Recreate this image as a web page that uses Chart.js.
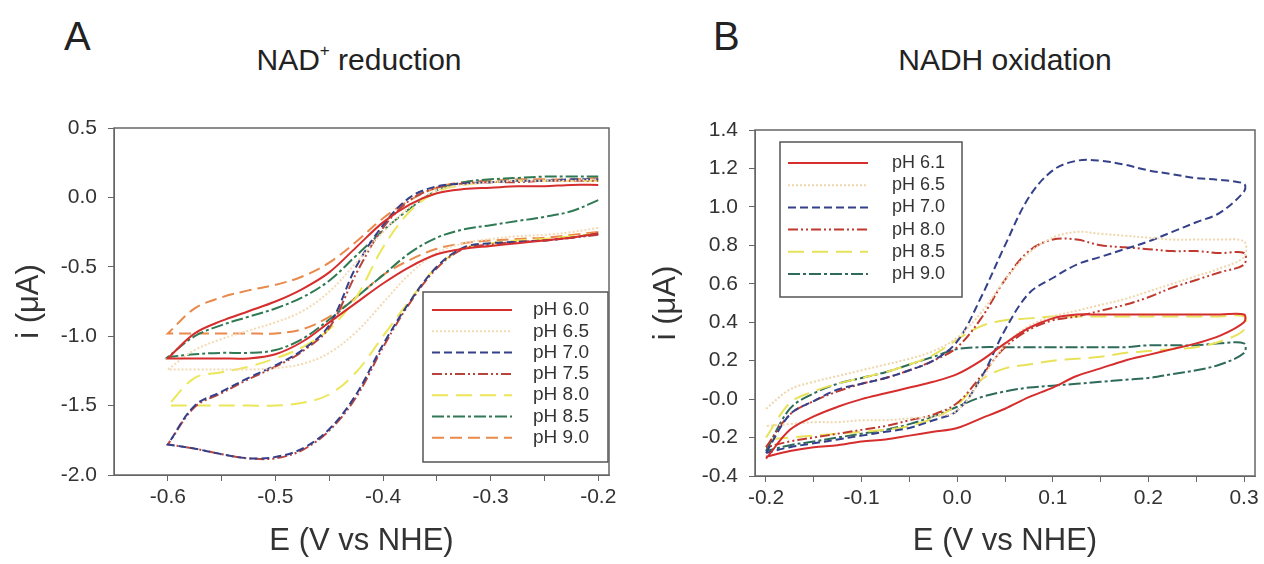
<!DOCTYPE html>
<html>
<head>
<meta charset="utf-8">
<script src="https://cdn.jsdelivr.net/npm/chart.js@4.4.1/dist/chart.umd.min.js"></script>
<style>
  body { margin: 0; background: #fff; width: 1264px; height: 564px; position: relative; overflow: hidden;
         font-family: "Liberation Sans", Arial, sans-serif; color: #222; }
  canvas { position: absolute; top: 0; }
  .letter { position: absolute; top: 14px; font-size: 40px; }
  .title { position: absolute; top: 43px; font-size: 30px; transform: translateX(-50%); white-space: nowrap; }
  .title sup { font-size: 17px; position: relative; top: -3px; }
</style>
</head>
<body>
<div class="letter" style="left:64px">A</div>
<div class="title" style="left:359px">NAD<sup>+</sup> reduction</div>
<div class="letter" style="left:713px">B</div>
<div class="title" style="left:1005px">NADH oxidation</div>
<canvas id="chartA" width="632" height="564" style="left:0"></canvas>
<canvas id="chartB" width="632" height="564" style="left:632px"></canvas>
<script>
// ---- panel A: NAD+ reduction (scan -0.2 -> -0.6 -> -0.2 V) ----
const potA = [-0.2, -0.225, -0.25, -0.275, -0.3, -0.325, -0.35, -0.375, -0.4, -0.425, -0.45, -0.475, -0.5, -0.525, -0.55, -0.575, -0.6,
              -0.6, -0.575, -0.55, -0.525, -0.5, -0.475, -0.45, -0.425, -0.4, -0.375, -0.35, -0.325, -0.3, -0.275, -0.25, -0.225, -0.2];
const a_pH60 = [-0.26, -0.29, -0.31, -0.33, -0.35, -0.37, -0.41, -0.50, -0.62, -0.76, -0.90, -1.04, -1.13, -1.16, -1.16, -1.16, -1.16,
                -1.16, -0.98, -0.89, -0.82, -0.75, -0.66, -0.54, -0.36, -0.18, -0.05, 0.03, 0.06, 0.07, 0.08, 0.08, 0.09, 0.09];
const a_pH65 = [-0.22, -0.25, -0.27, -0.28, -0.30, -0.33, -0.40, -0.55, -0.76, -0.97, -1.12, -1.20, -1.23, -1.24, -1.24, -1.24, -1.24,
                -1.24, -1.10, -1.02, -0.96, -0.90, -0.82, -0.68, -0.47, -0.25, -0.07, 0.05, 0.09, 0.11, 0.12, 0.12, 0.12, 0.13];
const a_pH70 = [-0.26, -0.29, -0.31, -0.32, -0.33, -0.36, -0.50, -0.75, -1.06, -1.42, -1.67, -1.81, -1.87, -1.88, -1.85, -1.81, -1.78,
                -1.78, -1.50, -1.40, -1.30, -1.21, -1.10, -0.92, -0.50, -0.20, 0.00, 0.08, 0.10, 0.11, 0.12, 0.12, 0.13, 0.13];
const a_pH75 = [-0.27, -0.29, -0.31, -0.32, -0.34, -0.37, -0.51, -0.76, -1.08, -1.44, -1.68, -1.82, -1.88, -1.88, -1.85, -1.81, -1.78,
                -1.78, -1.51, -1.41, -1.31, -1.22, -1.11, -0.94, -0.55, -0.22, -0.02, 0.07, 0.10, 0.11, 0.11, 0.12, 0.12, 0.12];
const a_pH80 = [-0.26, -0.28, -0.30, -0.31, -0.33, -0.37, -0.50, -0.74, -1.00, -1.26, -1.42, -1.48, -1.50, -1.50, -1.50, -1.50, -1.50,
                -1.50, -1.30, -1.26, -1.22, -1.16, -1.08, -0.95, -0.72, -0.36, -0.10, 0.04, 0.09, 0.11, 0.12, 0.12, 0.12, 0.12];
const a_pH85 = [-0.02, -0.10, -0.14, -0.17, -0.20, -0.23, -0.29, -0.40, -0.56, -0.72, -0.88, -1.02, -1.10, -1.12, -1.12, -1.13, -1.15,
                -1.15, -1.00, -0.92, -0.86, -0.80, -0.72, -0.60, -0.42, -0.24, -0.08, 0.05, 0.11, 0.13, 0.14, 0.15, 0.15, 0.15];
const a_pH90 = [-0.25, -0.27, -0.29, -0.30, -0.31, -0.33, -0.37, -0.45, -0.56, -0.72, -0.86, -0.95, -0.98, -0.98, -0.98, -0.98, -0.98,
                -0.98, -0.80, -0.72, -0.67, -0.63, -0.57, -0.47, -0.32, -0.15, -0.02, 0.07, 0.11, 0.12, 0.13, 0.13, 0.13, 0.14];
const xTicksA = [-0.6, -0.55, -0.5, -0.45, -0.4, -0.35, -0.3, -0.25, -0.2];

// ---- panel B: NADH oxidation (scan -0.2 -> 0.3 -> -0.2 V) ----
const potB = [-0.2, -0.175, -0.15, -0.125, -0.1, -0.075, -0.05, -0.025, 0, 0.025, 0.05, 0.075, 0.1, 0.125, 0.15, 0.175, 0.2, 0.225, 0.25, 0.275, 0.3,
              0.3, 0.275, 0.25, 0.225, 0.2, 0.175, 0.15, 0.125, 0.1, 0.075, 0.05, 0.025, 0, -0.025, -0.05, -0.075, -0.1, -0.125, -0.15, -0.175, -0.2];
const b_pH61 = [-0.31, -0.16, -0.09, -0.04, 0.00, 0.03, 0.06, 0.09, 0.13, 0.20, 0.29, 0.37, 0.42, 0.44, 0.44, 0.44, 0.44, 0.44, 0.44, 0.44, 0.44,
                0.40, 0.33, 0.29, 0.26, 0.23, 0.20, 0.16, 0.12, 0.06, 0.01, -0.05, -0.10, -0.15, -0.17, -0.19, -0.21, -0.22, -0.24, -0.25, -0.27, -0.30];
const b_pH65 = [-0.05, 0.05, 0.09, 0.12, 0.15, 0.18, 0.21, 0.25, 0.32, 0.45, 0.62, 0.76, 0.84, 0.87, 0.86, 0.85, 0.84, 0.83, 0.83, 0.83, 0.82,
                0.74, 0.68, 0.64, 0.60, 0.56, 0.52, 0.49, 0.46, 0.43, 0.38, 0.28, 0.10, -0.06, -0.09, -0.10, -0.11, -0.11, -0.12, -0.12, -0.13, -0.14];
const b_pH70 = [-0.28, -0.08, -0.01, 0.05, 0.08, 0.11, 0.15, 0.20, 0.30, 0.53, 0.80, 1.05, 1.19, 1.24, 1.24, 1.22, 1.19, 1.17, 1.15, 1.14, 1.12,
                1.08, 0.97, 0.92, 0.87, 0.82, 0.78, 0.74, 0.70, 0.63, 0.55, 0.36, 0.11, -0.06, -0.11, -0.15, -0.17, -0.19, -0.21, -0.23, -0.25, -0.28];
const b_pH80 = [-0.25, -0.08, -0.01, 0.04, 0.08, 0.11, 0.15, 0.20, 0.27, 0.42, 0.62, 0.77, 0.83, 0.83, 0.80, 0.79, 0.78, 0.77, 0.77, 0.76, 0.76,
                0.70, 0.66, 0.62, 0.58, 0.53, 0.49, 0.46, 0.43, 0.41, 0.36, 0.27, 0.12, -0.02, -0.08, -0.11, -0.14, -0.16, -0.18, -0.20, -0.22, -0.25];
const b_pH85 = [-0.20, -0.02, 0.04, 0.08, 0.11, 0.14, 0.18, 0.23, 0.31, 0.38, 0.41, 0.42, 0.43, 0.43, 0.43, 0.43, 0.43, 0.43, 0.43, 0.43, 0.43,
                0.36, 0.30, 0.27, 0.26, 0.25, 0.24, 0.22, 0.21, 0.20, 0.18, 0.16, 0.10, -0.03, -0.10, -0.14, -0.16, -0.17, -0.18, -0.19, -0.20, -0.21];
const b_pH90 = [-0.27, -0.05, 0.03, 0.08, 0.11, 0.14, 0.18, 0.22, 0.26, 0.27, 0.27, 0.27, 0.27, 0.27, 0.27, 0.27, 0.28, 0.28, 0.28, 0.29, 0.29,
                0.24, 0.18, 0.15, 0.13, 0.11, 0.10, 0.09, 0.08, 0.07, 0.06, 0.04, 0.01, -0.04, -0.09, -0.13, -0.16, -0.18, -0.20, -0.22, -0.24, -0.27];
const xTicksB = [-0.2, -0.15, -0.1, -0.05, 0, 0.05, 0.1, 0.15, 0.2, 0.25, 0.3];

const FONT = "'Liberation Sans', Arial, sans-serif";
const AXIS = "#666";

function toXY(pot, cur) {
  return pot.map((e, k) => ({ x: e, y: cur[k] }));
}

function curve(label, pot, cur, color, dash) {
  return {
    label: label,
    data: toXY(pot, cur),
    borderColor: color,
    borderWidth: 2,
    borderDash: dash,
    showLine: true,
    pointRadius: 0,
    tension: 0.35,
    fill: false,
  };
}

// box around plot area
const frame = {
  id: "frame",
  afterDraw(chart) {
    const { ctx, chartArea: a } = chart;
    ctx.save();
    ctx.strokeStyle = AXIS;
    ctx.lineWidth = 1.5;
    ctx.strokeRect(a.left, a.top, a.right - a.left, a.bottom - a.top);
    ctx.restore();
  },
};

// legend drawn inside the plot, with the dash pattern of each curve
const legendBox = {
  id: "legendBox",
  afterDatasetsDraw(chart, args, o) {
    const ctx = chart.ctx;
    ctx.save();
    ctx.fillStyle = "#fff";
    ctx.fillRect(o.x, o.y, o.w, o.h);
    ctx.strokeStyle = "#555";
    ctx.lineWidth = 1.5;
    ctx.strokeRect(o.x, o.y, o.w, o.h);
    ctx.font = o.fontSize + "px " + FONT;
    ctx.textBaseline = "middle";
    chart.data.datasets.forEach((ds, k) => {
      const y = o.y + o.first + k * o.gap;
      ctx.strokeStyle = ds.borderColor;
      ctx.lineWidth = ds.borderWidth;
      ctx.setLineDash(ds.borderDash || []);
      ctx.beginPath();
      ctx.moveTo(o.x + o.lineX, y);
      ctx.lineTo(o.x + o.lineX + o.lineW, y);
      ctx.stroke();
      ctx.setLineDash([]);
      ctx.fillStyle = "#333";
      ctx.fillText(ds.label, o.x + o.textX, y);
    });
    ctx.restore();
  },
};

function makeChart(el, datasets, cfg) {
  return new Chart(el, {
    type: "scatter",
    data: { datasets: datasets },
    plugins: [frame, legendBox],
    options: {
      responsive: false,
      animation: false,
      devicePixelRatio: 1,
      layout: { padding: cfg.padding },
      plugins: {
        legend: { display: false },
        tooltip: { enabled: false },
        legendBox: cfg.legend,
      },
      scales: {
        x: {
          type: "linear",
          min: cfg.xMin,
          max: cfg.xMax,
          afterBuildTicks: (s) => { s.ticks = cfg.xTicks.map((v) => ({ value: v })); },
          afterFit: (s) => { s.height = cfg.xHeight; },
          grid: { drawOnChartArea: false, color: AXIS, tickLength: 6 },
          border: { color: AXIS },
          ticks: {
            autoSkip: false,
            maxRotation: 0,
            padding: 4,
            color: "#333",
            font: { family: FONT, size: 21 },
            callback: (v) => (Math.abs(v * 10 - Math.round(v * 10)) < 1e-6 ? v.toFixed(1) : ""),
          },
          title: { display: true, text: "E (V vs NHE)", color: "#333", font: { family: FONT, size: 31 }, padding: { top: 0, bottom: 4 } },
        },
        y: {
          min: cfg.yMin,
          max: cfg.yMax,
          afterFit: (s) => { s.width = cfg.yWidth; },
          grid: { drawOnChartArea: false, color: AXIS, tickLength: 6 },
          border: { color: AXIS },
          ticks: {
            stepSize: cfg.yStep,
            padding: 11,
            color: "#333",
            font: { family: FONT, size: 21 },
            callback: (v) => v.toFixed(1),
          },
          title: { display: true, text: "i (\u03BCA)", color: "#333", font: { family: FONT, size: 31 }, padding: { top: cfg.yTitlePad, bottom: 0 } },
        },
      },
    },
  });
}

makeChart(document.getElementById("chartA"), [
  curve("pH 6.0", potA, a_pH60, "#d62d2d", []),
  curve("pH 6.5", potA, a_pH65, "#f4dab3", [2, 2]),
  curve("pH 7.0", potA, a_pH70, "#34418a", [8, 4]),
  curve("pH 7.5", potA, a_pH75, "#b8453c", [10, 3, 2, 3, 2, 3]),
  curve("pH 8.0", potA, a_pH80, "#ece659", [16, 8]),
  curve("pH 8.5", potA, a_pH85, "#2f7a55", [12, 3, 3, 3]),
  curve("pH 9.0", potA, a_pH90, "#e98a4c", [12, 6]),
], {
  padding: { left: 0, top: 128, right: 23, bottom: 0 },
  xMin: -0.65, xMax: -0.19, xTicks: xTicksA, xHeight: 89,
  yMin: -2.0, yMax: 0.5, yStep: 0.5, yWidth: 114, yTitlePad: 11,
  legend: { x: 423, y: 292, w: 185, h: 170, first: 18, gap: 21.3, lineX: 9, lineW: 80, textX: 110, fontSize: 19 },
});

makeChart(document.getElementById("chartB"), [
  curve("pH 6.1", potB, b_pH61, "#d62d2d", []),
  curve("pH 6.5", potB, b_pH65, "#efd6ad", [2, 2]),
  curve("pH 7.0", potB, b_pH70, "#34418a", [8, 4]),
  curve("pH 8.0", potB, b_pH80, "#c0392f", [10, 3, 2, 3, 2, 3]),
  curve("pH 8.5", potB, b_pH85, "#e8e25a", [16, 8]),
  curve("pH 9.0", potB, b_pH90, "#2e6b5a", [12, 3, 3, 3]),
], {
  padding: { left: 0, top: 130, right: 9, bottom: 0 },
  xMin: -0.2115, xMax: 0.3115, xTicks: xTicksB, xHeight: 88,
  yMin: -0.4, yMax: 1.4, yStep: 0.2, yWidth: 123, yTitlePad: 16,
  legend: { x: 148, y: 142, w: 182, h: 155, first: 21, gap: 22.2, lineX: 8, lineW: 80, textX: 112, fontSize: 18 },
});
</script>
</body>
</html>
